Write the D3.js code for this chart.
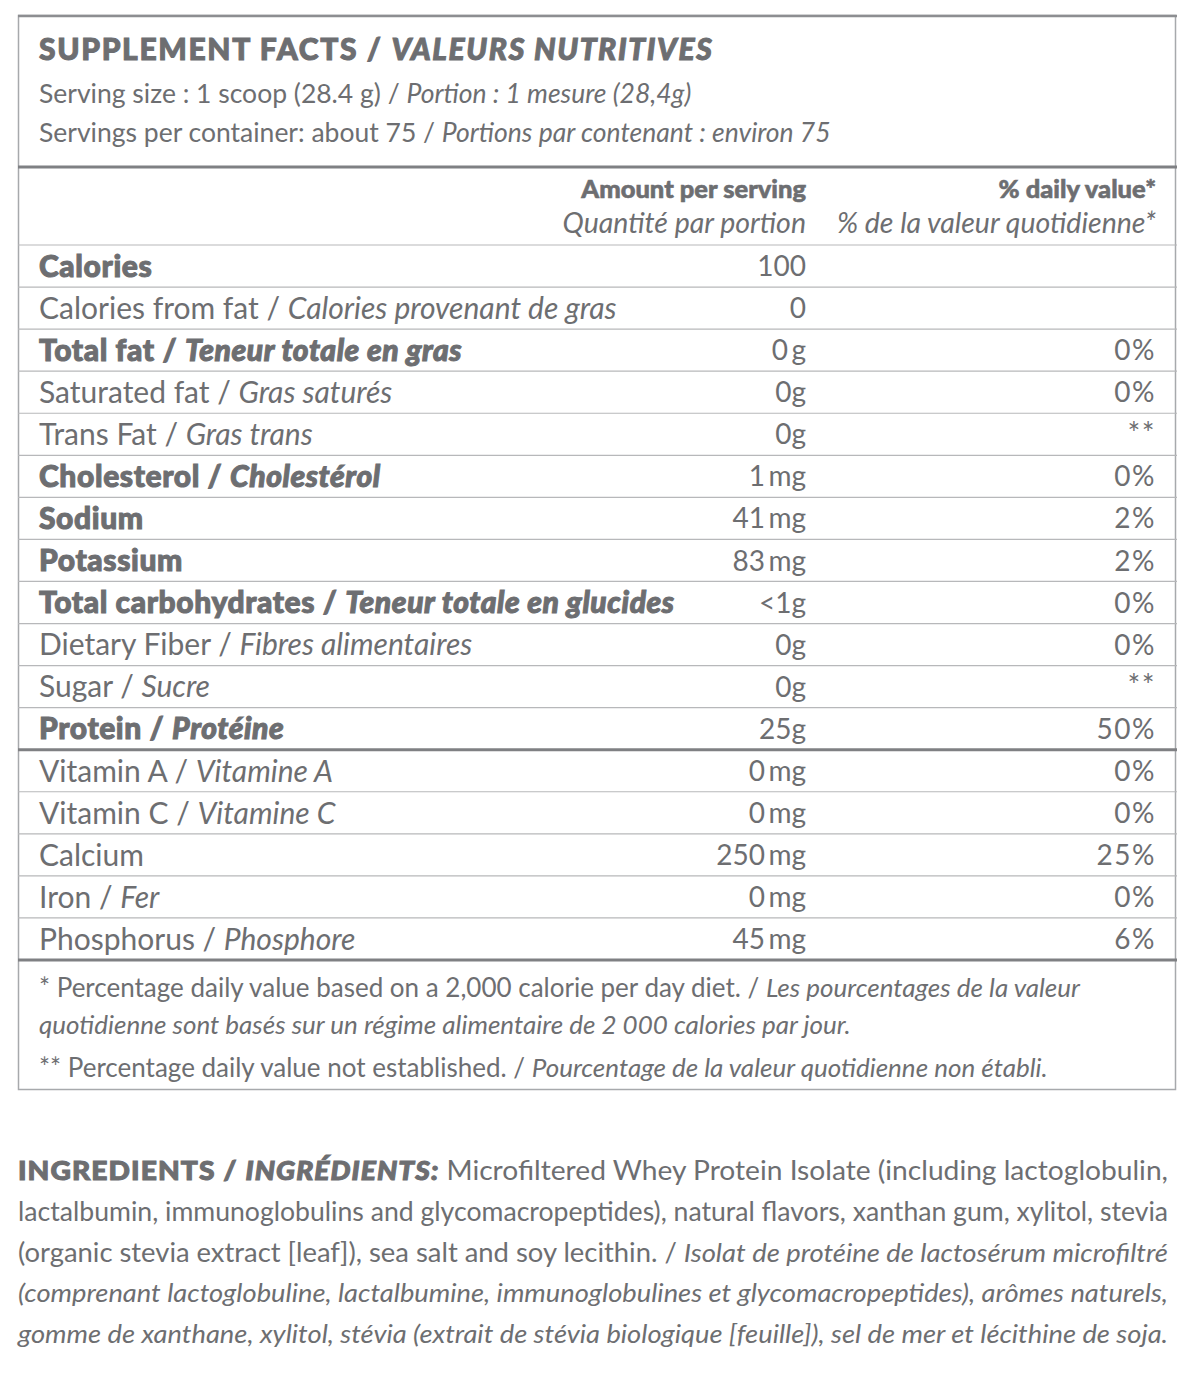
<!DOCTYPE html>
<html>
<head>
<meta charset="utf-8">
<script src="https://cdn.jsdelivr.net/npm/d3@7"></script>
<style>
  body { margin: 0; background: #fff; }
  text { font-family: Lato, "Open Sans", sans-serif; fill: #6d6e71; }
  .heavy { font-weight: 900; stroke: #6d6e71; stroke-width: 1px; }
</style>
</head>
<body>
<script>
// nutrients, in table order
const nutrients = ["Calories", "Calories from fat", "Total fat", "Saturated fat", "Trans Fat",
  "Cholesterol", "Sodium", "Potassium", "Total carbohydrates", "Dietary Fiber", "Sugar",
  "Protein", "Vitamin A", "Vitamin C", "Calcium", "Iron", "Phosphorus"]
const nutrientsFr = ["", "Calories provenant de gras", "Teneur totale en gras", "Gras saturés", "Gras trans",
  "Cholestérol", "", "", "Teneur totale en glucides", "Fibres alimentaires", "Sucre",
  "Protéine", "Vitamine A", "Vitamine C", "", "Fer", "Phosphore"]
const amounts = ["100", "0", "0\u2009g", "0g", "0g", "1\u2009mg", "41\u2009mg", "83\u2009mg", "<1g", "0g", "0g",
  "25g", "0\u2009mg", "0\u2009mg", "250\u2009mg", "0\u2009mg", "45\u2009mg"]
const dailyValues = ["", "", "0%", "0%", "**", "0%", "2%", "2%", "0%", "0%", "**",
  "50%", "0%", "0%", "25%", "0%", "6%"]
const mainNutrients = ["Calories", "Total fat", "Cholesterol", "Sodium", "Potassium", "Total carbohydrates", "Protein"]

const title = ["SUPPLEMENT FACTS", "VALEURS NUTRITIVES"]
const serving = [["Serving size : 1 scoop (28.4 g)", "Portion : 1 mesure (28,4g)"],
  ["Servings per container: about 75", "Portions par contenant : environ 75"]]
const colHeads = [["Amount per serving", "Quantité par portion"], ["% daily value*", "% de la valeur quotidienne*"]]
const footnotes = [["* Percentage daily value based on a 2,000 calorie per day diet.", "Les pourcentages de la valeur"],
  ["", "quotidienne sont basés sur un régime alimentaire de 2 000 calories par jour."],
  ["** Percentage daily value not established.", "Pourcentage de la valeur quotidienne non établi."]]
const ingredientsTitle = ["INGREDIENTS", "INGRÉDIENTS:"]
const ingredientsEn = ["Microfiltered Whey Protein Isolate (including lactoglobulin,",
  "lactalbumin, immunoglobulins and glycomacropeptides), natural flavors, xanthan gum, xylitol, stevia",
  "(organic stevia extract [leaf]), sea salt and soy lecithin."]
const ingredientsFr = ["Isolat de protéine de lactosérum microfiltré",
  "(comprenant lactoglobuline, lactalbumine, immunoglobulines et glycomacropeptides), arômes naturels,",
  "gomme de xanthane, xylitol, stévia (extrait de stévia biologique [feuille]), sel de mer et lécithine de soja."]

var svg = d3.select("body").append("svg")
    .attr("width", 1200)
    .attr("height", 1375)

var y = d3.scaleBand().domain(nutrients).range([245, 960])
var col = d3.scaleOrdinal().domain(["label", "amount", "dv"]).range([39, 806, 1156])
var thin = "#b7b8ba", thick = "#7f8083"

// outer box
svg.append("rect")
    .attr("x", 18.5).attr("y", 15.5)
    .attr("width", 1157).attr("height", 1074)
    .attr("fill", "none")
    .attr("stroke", "#a7a9ac")
    .attr("stroke-width", 1.5)
svg.append("line")
    .attr("x1", 18).attr("x2", 1177).attr("y1", 16).attr("y2", 16)
    .attr("stroke", "#8d8e91").attr("stroke-width", 2.5)

// header
var head = svg.append("text").attr("class", "heavy").attr("x", col("label")).attr("y", 60)
    .style("font-size", "30px").style("letter-spacing", "1.65px")
head.append("tspan").text(title[0] + " / ")
head.append("tspan").style("font-style", "italic").text(title[1])

serving.forEach(function (s, i) {
  var t = svg.append("text").attr("x", col("label")).attr("y", 103 + i * 39).style("font-size", "26.5px")
  t.append("tspan").text(s[0] + " / ")
  t.append("tspan").style("font-style", "italic").text(s[1])
})

svg.append("line")
    .attr("x1", 18).attr("x2", 1177).attr("y1", 167).attr("y2", 167)
    .attr("stroke", thick).attr("stroke-width", 3)

colHeads.forEach(function (h, i) {
  var x = i == 0 ? col("amount") : col("dv")
  svg.append("text").attr("class", "heavy").attr("x", x).attr("y", 198).attr("text-anchor", "end")
      .style("font-size", "25.5px").style("stroke-width", "0.6px").text(h[0])
  svg.append("text").attr("x", x).attr("y", 233).attr("text-anchor", "end")
      .style("font-size", "28.5px").style("font-style", "italic").text(h[1])
})

// rows
var row = svg.selectAll("g.row")
    .data(nutrients)
    .enter()
    .append("g")
    .attr("class", "row")
    .attr("transform", function (d) { return "translate(0," + y(d) + ")" })

row.append("line")
    .attr("x1", 18).attr("x2", 1177)
    .attr("stroke", function (d) { return d == "Vitamin A" ? thick : thin })
    .attr("stroke-width", function (d) { return d == "Vitamin A" ? 3 : 1.2 })

var mid = y.bandwidth() / 2
var label = row.append("text")
    .attr("class", function (d) { return mainNutrients.includes(d) ? "heavy" : null })
    .attr("x", col("label"))
    .attr("y", mid).attr("dy", "0.36em")
    .style("font-size", "30px")
    .style("letter-spacing", function (d) { return mainNutrients.includes(d) ? "0.6px" : "0" })
label.append("tspan").text(function (d) {
  return nutrientsFr[nutrients.indexOf(d)] ? d + " / " : d
})
label.append("tspan")
    .style("font-style", "italic")
    .text(function (d) { return nutrientsFr[nutrients.indexOf(d)] })

row.append("text")
    .attr("x", col("amount"))
    .attr("y", mid).attr("dy", "0.36em")
    .attr("text-anchor", "end")
    .style("font-size", "28px")
    .text(function (d) { return amounts[nutrients.indexOf(d)] })

row.append("text")
    .attr("x", col("dv"))
    .attr("y", mid)
    .attr("dy", function (d) { return dailyValues[nutrients.indexOf(d)] == "**" ? "0.32em" : "0.36em" })
    .attr("text-anchor", "end")
    .style("font-size", function (d) { return dailyValues[nutrients.indexOf(d)] == "**" ? "30px" : "28px" })
    .style("letter-spacing", "1.5px")
    .text(function (d) { return dailyValues[nutrients.indexOf(d)] })

svg.append("line")
    .attr("x1", 18).attr("x2", 1177)
    .attr("y1", y.range()[1]).attr("y2", y.range()[1])
    .attr("stroke", thick).attr("stroke-width", 3)

// footnotes
footnotes.forEach(function (f, i) {
  var t = svg.append("text").attr("x", col("label")).attr("y", [997, 1034, 1077][i]).style("font-size", "26px")
  if (f[0]) t.append("tspan").text(f[0] + " / ")
  t.append("tspan").style("font-style", "italic").text(f[1])
})

// ingredients, justified lines
var lines = [
  [[ingredientsTitle[0] + " / ", "b"], [ingredientsTitle[1] + " ", "bi"], [ingredientsEn[0], ""]],
  [[ingredientsEn[1], ""]],
  [[ingredientsEn[2] + " / ", ""], [ingredientsFr[0], "i"]],
  [[ingredientsFr[1], "i"]],
  [[ingredientsFr[2], "i"]]
]
lines.forEach(function (l, i) {
  var t = svg.append("text")
      .attr("x", 18).attr("y", 1180 + i * 40.8)
      .attr("textLength", 1150).attr("lengthAdjust", "spacingAndGlyphs")
      .style("font-size", "26px")
  l.forEach(function (p) {
    t.append("tspan").text(p[0])
        .attr("class", p[1].includes("b") ? "heavy" : null)
        .style("font-style", p[1].includes("i") ? "italic" : "normal")
        .style("letter-spacing", p[1].includes("b") ? "1px" : "0")
  })
})
</script>
</body>
</html>
